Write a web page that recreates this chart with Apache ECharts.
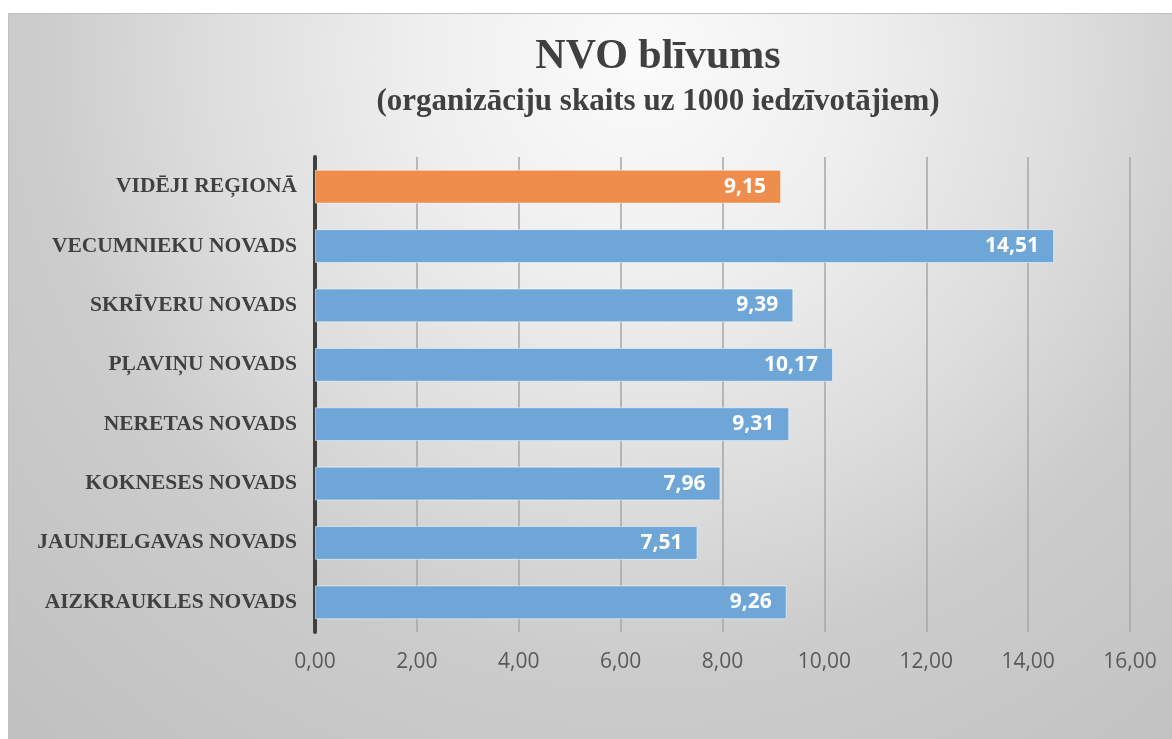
<!DOCTYPE html>
<html>
<head>
<meta charset="utf-8">
<script src="https://cdn.jsdelivr.net/npm/echarts@6/dist/echarts.min.js"></script>
<style>
  html, body { margin: 0; padding: 0; background: #fff; }
  #chart { width: 1172px; height: 739px; }
</style>
</head>
<body>
<div id="chart"></div>
<script>
// categories bottom -> top (category axis runs upward)
const categories = [
  'AIZKRAUKLES NOVADS',
  'JAUNJELGAVAS NOVADS',
  'KOKNESES NOVADS',
  'NERETAS NOVADS',
  'PĻAVIŅU NOVADS',
  'SKRĪVERU NOVADS',
  'VECUMNIEKU NOVADS',
  'VIDĒJI REĢIONĀ'
]
const values = [9.26, 7.51, 7.96, 9.31, 10.17, 9.39, 14.51, 9.15]
const highlightCategory = 'VIDĒJI REĢIONĀ'
const xTicks = { min: 0, max: 16, interval: 2 }

const titleText = 'NVO blīvums'
const subtitleText = '(organizāciju skaits uz 1000 iedzīvotājiem)'

const BLUE = '#6fa6d8'
const ORANGE = '#ee8d4c'
const fmt = v => v.toFixed(2).replace('.', ',')

const barData = categories.map((c, i) => ({
  value: values[i],
  itemStyle: { color: c === highlightCategory ? ORANGE : BLUE }
}))

const chart = echarts.init(document.getElementById('chart'))

const option = {
  backgroundColor: '#ffffff',
  animation: false,
  graphic: [
    {
      type: 'rect',
      z: -10,
      silent: true,
      shape: { x: 8.5, y: 13.5, width: 1180, height: 740 },
      style: {
        fill: new echarts.graphic.RadialGradient(640, 60, 900, [
          { offset: 0, color: '#fbfbfb' },
          { offset: 0.24, color: '#efefef' },
          { offset: 0.48, color: '#dddddd' },
          { offset: 0.67, color: '#cccccc' },
          { offset: 1, color: '#c1c1c1' }
        ], true),
        stroke: '#c0c0c0',
        lineWidth: 1
      }
    },
    {
      type: 'text',
      x: 658,
      y: 57,
      style: {
        text: titleText,
        font: 'bold 42px "Liberation Serif"',
        fill: '#404040',
        align: 'center',
        verticalAlign: 'middle'
      }
    },
    {
      type: 'text',
      x: 658,
      y: 102,
      style: {
        text: subtitleText,
        font: 'bold 31px "Liberation Serif"',
        fill: '#404040',
        align: 'center',
        verticalAlign: 'middle'
      }
    }
  ],
  grid: {
    left: 315,
    right: 42,
    top: 157,
    bottom: 107,
    containLabel: false
  },
  xAxis: {
    type: 'value',
    min: xTicks.min,
    max: xTicks.max,
    interval: xTicks.interval,
    axisLine: { show: false },
    axisTick: { show: false },
    splitLine: {
      show: true,
      lineStyle: { color: '#a6a6a6', width: 1.5 }
    },
    axisLabel: {
      formatter: fmt,
      color: '#595959',
      fontFamily: '"Open Sans"',
      fontSize: 21,
      margin: 20
    }
  },
  yAxis: {
    type: 'category',
    data: categories,
    axisLine: {
      show: true,
      lineStyle: { color: '#404040', width: 4 }
    },
    axisTick: { show: false },
    axisLabel: {
      color: '#404040',
      fontFamily: '"Liberation Serif"',
      fontWeight: 'bold',
      fontSize: 21.5,
      margin: 18
    }
  },
  series: [
    {
      type: 'bar',
      data: barData,
      barCategoryGap: '43%',
      itemStyle: {
        borderColor: 'rgba(255,255,255,0.5)',
        borderWidth: 1
      },
      label: {
        show: true,
        position: 'insideRight',
        distance: 15,
        formatter: p => fmt(p.value),
        color: '#ffffff',
        fontFamily: '"Open Sans"',
        fontWeight: 'bold',
        fontSize: 21
      }
    }
  ]
}

chart.setOption(option)
</script>
</body>
</html>
